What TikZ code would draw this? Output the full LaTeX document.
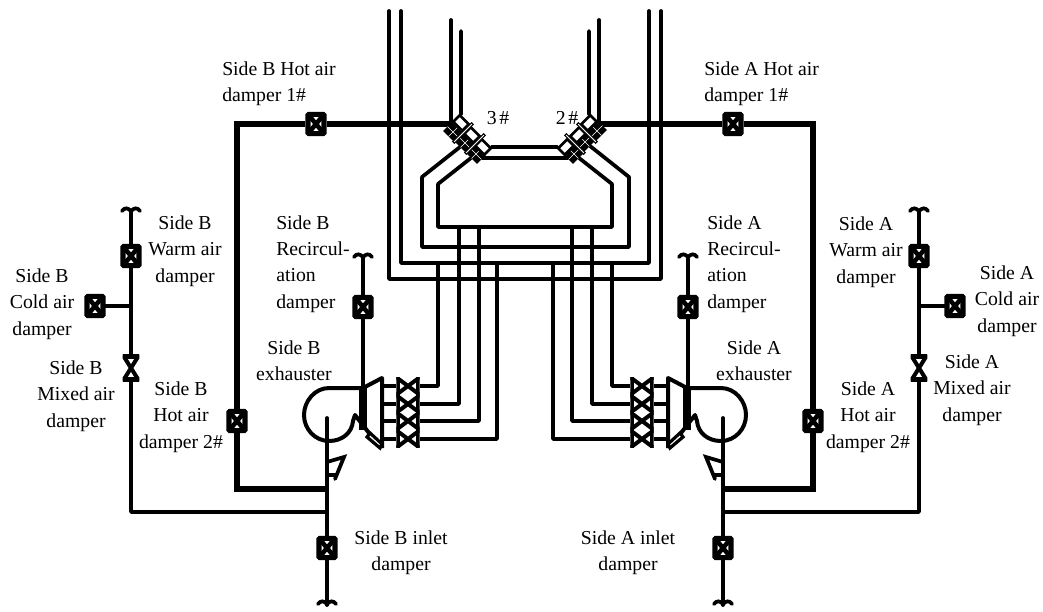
\documentclass[tikz,border=0pt]{standalone}
\usepackage{fontspec}
\setmainfont{Liberation Serif}
\usetikzlibrary{backgrounds}
\tikzset{
    pipe/.style={draw, line width=2.8pt, line cap=round, line join=round},
    duct/.style={draw, line width=5pt, line join=miter},
    txt/.style={inner sep=0, align=center, font=\fontsize{14.8}{19.7}\selectfont},
    ltxt/.style={style=txt, align=left, anchor=west},
    damper/.style={draw, fill=white, line width=3.8pt, rounded corners=0.6pt, inner sep=0, minimum width=12pt, minimum height=14.5pt,
        path picture={\draw[line width=3.4pt] (path picture bounding box.north west) -- (path picture bounding box.south east)
            (path picture bounding box.north east) -- (path picture bounding box.south west);}},
    valveh/.style={fill=white, inner sep=0, minimum width=17.5pt, minimum height=13pt,
        path picture={\draw[line width=3pt] (path picture bounding box.north west) -- (path picture bounding box.south east)
            (path picture bounding box.north east) -- (path picture bounding box.south west);
            \draw[line width=6pt] (path picture bounding box.north west) -- (path picture bounding box.south west)
            (path picture bounding box.north east) -- (path picture bounding box.south east);}},
    valvev/.style={fill=white, inner sep=0, minimum width=12.5pt, minimum height=20pt,
        path picture={\draw[line width=3pt] (path picture bounding box.north west) -- (path picture bounding box.south east)
            (path picture bounding box.north east) -- (path picture bounding box.south west);
            \draw[line width=6pt] (path picture bounding box.north west) -- (path picture bounding box.north east)
            (path picture bounding box.south west) -- (path picture bounding box.south east);}},
    vent/.style={draw, fill=white, line width=2pt, inner sep=0, minimum width=7pt, minimum height=9.5pt},
    shut/.style={fill=black, inner sep=0, minimum width=9.5pt, minimum height=11.5pt,
        path picture={\draw[white, line width=0.3pt] (path picture bounding box.north west) -- (path picture bounding box.south east)
            (path picture bounding box.north east) -- (path picture bounding box.south west);}},
    sepbar/.style={draw, fill=white, line width=0.8pt, inner sep=0, minimum width=20pt, minimum height=1.8pt},
    tilde/.pic={\draw[line width=2.8pt, line cap=round] (-9,-1) .. controls (-6,-5) and (-3,-4) .. (0,-1) .. controls (3,-4) and (6,-5) .. (9,-1);},
    fan/.pic={
        \draw[line width=3pt, line join=round] (363,388) -- (329,388) .. controls (315,388) and (304,401) .. (304,415)
            .. controls (304,429) and (315,441) .. (329,441) .. controls (342,441) and (352,433) .. (353,421) -- (355,415) -- (369,433);
        \draw[line width=3pt, line join=round] (363,388) -- (382,378) -- (382,448);
        \draw[line width=5.5pt] (363,388) -- (363,430);
        \draw[line width=2.4pt, fill=white] (367,437) -- (380,448) -- (382,444) -- (370,433) -- cycle;
        \draw[line width=2.8pt, line cap=round] (327,462) -- (344,457) -- (335,479) (327,475) -- (336,475);
    }
}
\begin{document}
\begin{tikzpicture}[x=0.75pt, y=-0.75pt]
        \useasboundingbox (0, 0) rectangle (1043, 611);

        % side B dampers
        \node[damper] (b_hot1) at (316, 124) {};
        \node[damper] (b_hot2) at (237, 421) {};
        \node[damper] (b_warm) at (131, 256) {};
        \node[damper] (b_cold) at (95, 306) {};
        \node[valvev] (b_mixed) at (131, 368) {};
        \node[damper] (b_recirc) at (363, 307) {};
        \node[damper] (b_inlet) at (327, 548) {};
        % side A dampers
        \node[damper] (a_hot1) at (733, 124) {};
        \node[damper] (a_hot2) at (813, 421) {};
        \node[damper] (a_warm) at (919, 256) {};
        \node[damper] (a_cold) at (955, 306) {};
        \node[valvev] (a_mixed) at (919, 368) {};
        \node[damper] (a_recirc) at (688, 307) {};
        \node[damper] (a_inlet) at (723, 548) {};

        % exhausters
        \pic {fan};
        \pic[xscale=-1] at (1050, 0) {fan};

        % inlet valves
        \node[valveh] (b_v1) at (408, 386) {};
        \node[valveh] (b_v2) at (408, 404) {};
        \node[valveh] (b_v3) at (408, 421) {};
        \node[valveh] (b_v4) at (408, 439) {};
        \node[valveh] (a_v1) at (642, 386) {};
        \node[valveh] (a_v2) at (642, 404) {};
        \node[valveh] (a_v3) at (642, 421) {};
        \node[valveh] (a_v4) at (642, 439) {};

        % 3# and 2# damper groups
        \node[shut, rotate=45] (b_shut1) at (453, 132) {};
        \node[vent, rotate=45] (b_vent1) at (461, 123) {};
        \node[shut, rotate=45] (b_shut2) at (465, 143) {};
        \node[vent, rotate=45] (b_vent2) at (472, 135) {};
        \node[shut, rotate=45] (b_shut3) at (476, 154) {};
        \node[vent, rotate=45] (b_vent3) at (483, 147) {};
        \node[sepbar, rotate=45] (b_sep1) at (463, 133) {};
        \node[sepbar, rotate=45] (b_sep2) at (475, 144) {};
        \node[shut, rotate=-45] (a_shut1) at (597, 131) {};
        \node[vent, rotate=-45] (a_vent1) at (589, 123) {};
        \node[shut, rotate=-45] (a_shut2) at (585, 142) {};
        \node[vent, rotate=-45] (a_vent2) at (578, 135) {};
        \node[shut, rotate=-45] (a_shut3) at (574, 154) {};
        \node[vent, rotate=-45] (a_vent3) at (566, 147) {};
        \node[sepbar, rotate=-45] (a_sep1) at (587, 133) {};
        \node[sepbar, rotate=-45] (a_sep2) at (575, 144) {};
        \node[txt] (no3) at (498, 118) {3\hspace{2pt}\#};
        \node[txt] (no2) at (567, 118) {2\hspace{2pt}\#};

        % free ends and bends
        \coordinate (b_warm_top) at (131, 212);
        \coordinate (a_warm_top) at (919, 212);
        \coordinate (b_recirc_top) at (363, 258);
        \coordinate (a_recirc_top) at (688, 258);
        \coordinate (b_stem_top) at (327, 418);
        \coordinate (a_stem_top) at (723, 418);
        \coordinate (b_stem_end) at (327, 605);
        \coordinate (a_stem_end) at (723, 605);
        \coordinate (b_thick) at (327, 489);
        \coordinate (a_thick) at (723, 489);
        \coordinate (b_thin) at (327, 512);
        \coordinate (a_thin) at (723, 512);
        \coordinate (b_fan_in) at (363, 388);
        \coordinate (a_fan_in) at (688, 388);
        \coordinate (b_cone) at (382, 386);
        \coordinate (a_cone) at (668, 386);
        \coordinate (b_drop1) at (438, 263);
        \coordinate (b_drop2) at (459, 227);
        \coordinate (b_drop3) at (479, 227);
        \coordinate (b_drop4) at (497, 263);
        \coordinate (a_drop1) at (612, 263);
        \coordinate (a_drop2) at (592, 227);
        \coordinate (a_drop3) at (572, 227);
        \coordinate (a_drop4) at (553, 263);
        \coordinate (b_riser_outer) at (451, 20);
        \coordinate (b_riser_inner) at (461, 31);
        \coordinate (a_riser_outer) at (599, 20);
        \coordinate (a_riser_inner) at (589, 31);

        \pic at (b_warm_top) {tilde};
        \pic at (a_warm_top) {tilde};
        \pic at (b_recirc_top) {tilde};
        \pic at (a_recirc_top) {tilde};
        \pic at (b_stem_end) {tilde};
        \pic at (a_stem_end) {tilde};

        \begin{scope}[on background layer]
            % hot air mains
            \draw[duct] (b_shut1 |- b_hot1) -- (b_hot1) -| (b_hot2) |- (b_thick);
            \draw[duct] (a_shut1 |- a_hot1) -- (a_hot1) -| (a_hot2) |- (a_thick);
            % air mixing branches
            \draw[pipe] (b_warm_top) -- (b_warm) -- (b_mixed) |- (b_thin);
            \draw[pipe] (a_warm_top) -- (a_warm) -- (a_mixed) |- (a_thin);
            \draw[pipe] (b_cold) -- (b_cold -| b_warm);
            \draw[pipe] (a_cold) -- (a_cold -| a_warm);
            % stems and recirculation
            \draw[pipe] (b_stem_top) -- (b_inlet) -- (b_stem_end);
            \draw[pipe] (a_stem_top) -- (a_inlet) -- (a_stem_end);
            \draw[pipe] (b_recirc_top) -- (b_recirc) -- (b_fan_in);
            \draw[pipe] (a_recirc_top) -- (a_recirc) -- (a_fan_in);
            % valves to drops
            \draw[pipe] (b_cone |- b_v1) -- (b_v1) -| (b_drop1);
            \draw[pipe] (b_cone |- b_v2) -- (b_v2) -| (b_drop2);
            \draw[pipe] (b_cone |- b_v3) -- (b_v3) -| (b_drop3);
            \draw[pipe] (b_cone |- b_v4) -- (b_v4) -| (b_drop4);
            \draw[pipe] (a_cone |- a_v1) -- (a_v1) -| (a_drop1);
            \draw[pipe] (a_cone |- a_v2) -- (a_v2) -| (a_drop2);
            \draw[pipe] (a_cone |- a_v3) -- (a_v3) -| (a_drop3);
            \draw[pipe] (a_cone |- a_v4) -- (a_v4) -| (a_drop4);
            % long risers
            \draw[pipe] (389, 11) -- (389, 279) -- (661, 279) -- (661, 11);
            \draw[pipe] (401, 11) -- (401, 263) -- (649, 263) -- (649, 11);
            % short risers
            \draw[pipe] (b_riser_outer) -- (b_riser_outer |- b_shut1);
            \draw[pipe] (b_riser_inner) -- (b_vent1);
            \draw[pipe] (a_riser_outer) -- (a_riser_outer |- a_shut1);
            \draw[pipe] (a_riser_inner) -- (a_vent1);
            % loops below the damper groups
            \draw[pipe] (b_shut2) -- (422, 177) -- (422, 247) -- (629, 247) -- (629, 177) -- (a_shut2);
            \draw[pipe] (b_shut3) -- (438, 184) -- (438, 227) -- (612, 227) -- (612, 184) -- (a_shut3);
            \draw[pipe] (b_vent3) -- (a_vent3);
            \draw[pipe] (b_shut3 |- 0, 158) -- (a_shut3 |- 0, 158);
        \end{scope}

        % labels
        \node[ltxt] (t_b_hot1) at (222, 84) {Side B Hot air\\damper 1\#};
        \node[ltxt] (t_a_hot1) at (704, 84) {Side A Hot air\\damper 1\#};
        \node[txt] (t_b_warm) at (185, 251) {Side B\\Warm air\\damper};
        \node[txt] (t_b_cold) at (42, 304) {Side B\\Cold air\\damper};
        \node[txt] (t_b_mixed) at (76, 396) {Side B\\Mixed air\\damper};
        \node[txt] (t_b_hot2) at (181, 417) {Side B\\Hot air\\damper 2\#};
        \node[ltxt] (t_b_recirc) at (276, 264) {Side B\\Recircul-\\ation\\damper};
        \node[ltxt] (t_a_recirc) at (707, 264) {Side A\\Recircul-\\ation\\damper};
        \node[txt] (t_b_exh) at (294, 361) {Side B\\exhauster};
        \node[txt] (t_a_exh) at (754, 361) {Side A\\exhauster};
        \node[txt] (t_a_warm) at (866, 252) {Side A\\Warm air\\damper};
        \node[txt] (t_a_cold) at (1007, 301) {Side A\\Cold air\\damper};
        \node[txt] (t_a_mixed) at (972, 390) {Side A\\Mixed air\\damper};
        \node[txt] (t_a_hot2) at (868, 417) {Side A\\Hot air\\damper 2\#};
        \node[txt] (t_b_inlet) at (401, 553) {Side B inlet\\damper};
        \node[txt] (t_a_inlet) at (628, 553) {Side A inlet\\damper};
      \end{tikzpicture}
\end{document}
